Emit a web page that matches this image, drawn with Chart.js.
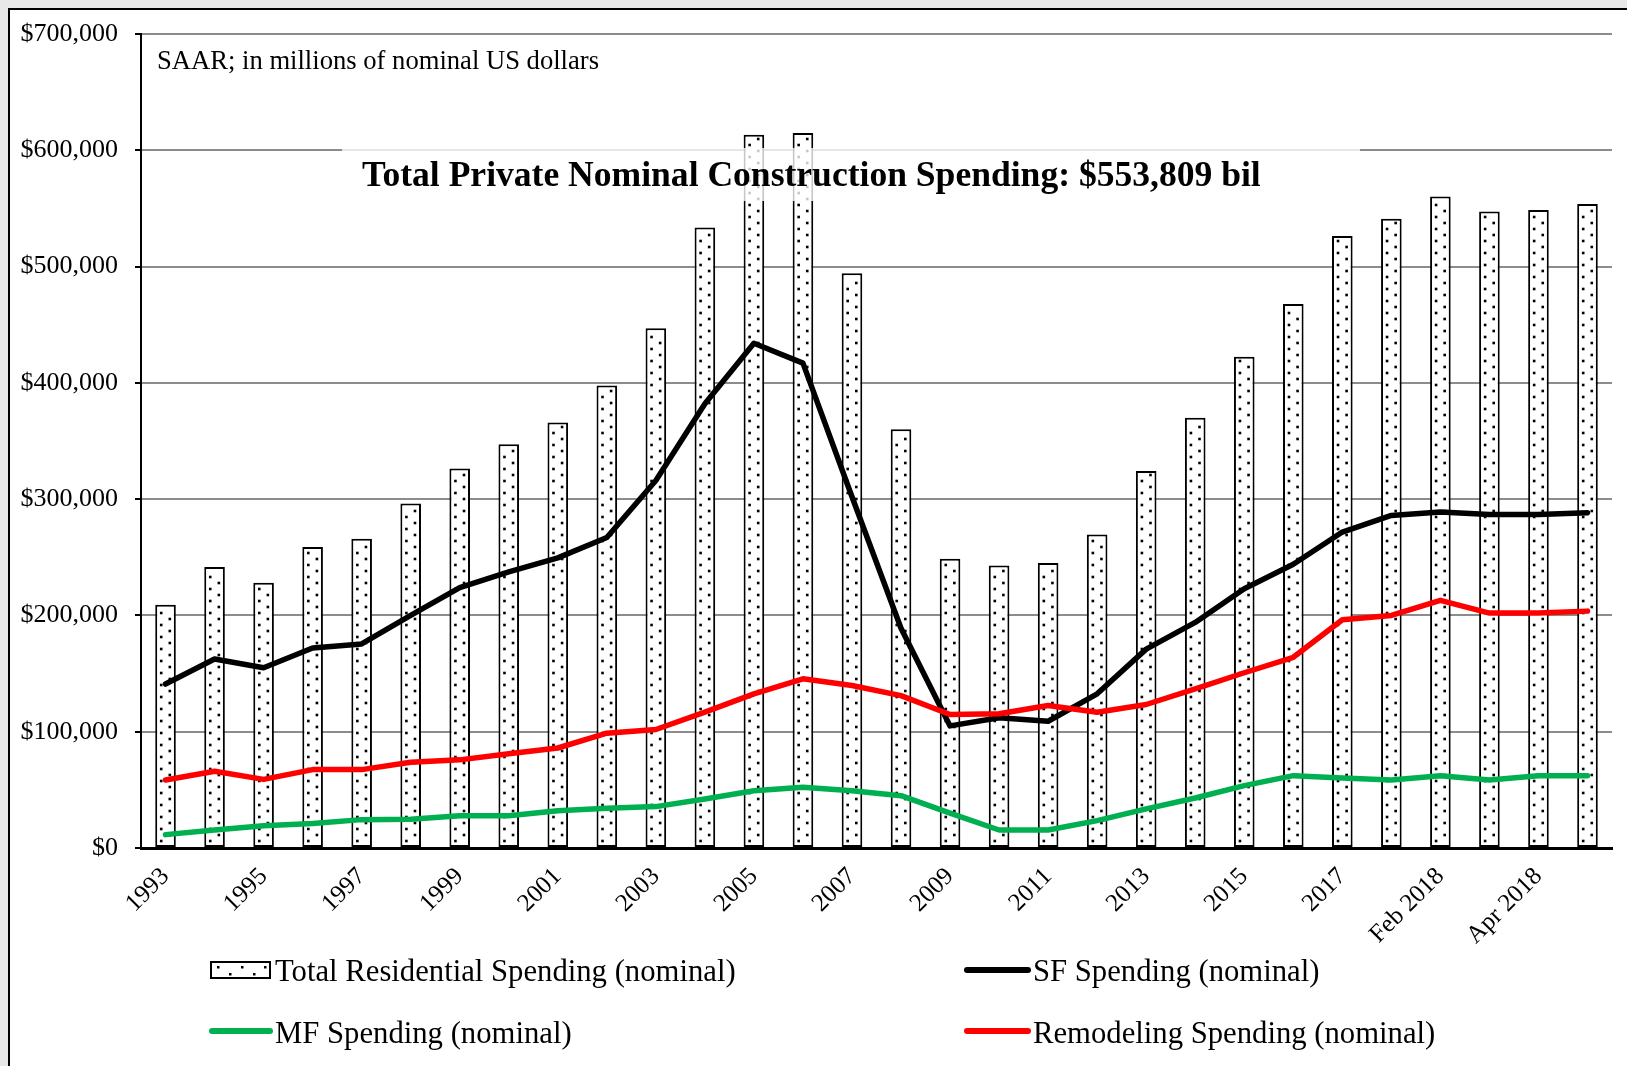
<!DOCTYPE html>
<html><head><meta charset="utf-8">
<script src="https://cdn.jsdelivr.net/npm/chart.js@4.4.1/dist/chart.umd.min.js"></script>
<style>html,body{margin:0;padding:0;background:#e8e8e8;overflow:hidden}canvas{display:block}</style>
</head><body>
<canvas id="c" width="1627" height="1066"></canvas>
<script>
// ---------- DATA ----------
const categories = ['1993','1994','1995','1996','1997','1998','1999','2000','2001','2002','2003','2004','2005','2006','2007','2008','2009','2010','2011','2012','2013','2014','2015','2016','2017','Jan 2018','Feb 2018','Mar 2018','Apr 2018','May 2018'];
const totalResidential = [209200,241600,228200,258800,266000,296200,326300,347300,365900,397800,446900,533500,613300,614800,494200,360200,248800,243000,245000,269500,324300,369900,422400,467800,526300,541200,560200,547300,548700,553809];
const sfSpending = [141000,162500,155000,172000,175500,200000,224000,237500,249500,267000,316000,382000,434000,417000,302000,189000,105000,112000,109000,132600,171000,194000,223000,244000,271700,286000,289000,286700,286700,288400];
const mfSpending = [11500,15500,19200,21000,24400,24700,27800,27800,32100,34100,35600,42200,49300,52200,49300,45000,30000,15500,15500,23500,33600,43000,53600,62200,60300,58500,62200,58500,62200,62200];
const remodelSpending = [58500,66000,59000,67400,67400,73700,75800,81000,86000,98700,101900,116800,132600,145500,139700,131000,114800,115400,122500,116800,123400,136900,150700,164000,196300,200000,213000,202000,202000,203700];
const yTickValues = [0,100000,200000,300000,400000,500000,600000,700000];
const seriesNames = ['Total Residential Spending (nominal)','SF Spending (nominal)','MF Spending (nominal)','Remodeling Spending (nominal)'];
const subtitleText = 'SAAR; in millions of nominal US dollars';
const titleText = 'Total Private Nominal Construction Spending: $553,809 bil';

// ---------- STYLE ----------
const SERIF = '"Liberation Serif", "Times New Roman", serif';
const COLORS = {sf:'#000000', mf:'#00b050', rem:'#ff0000'};

function drawDots(ctx, left, top, bottom, w) {
  let k = 0;
  for (let yy = bottom - 6; yy > top + 4; yy -= 6, k++) {
    const dx = (k % 2 === 0) ? 6 : w - 6;
    ctx.fillRect(left + dx - 1.3, yy - 1.3, 2.6, 2.6);
  }
}

function fitFont(ctx, text, weight, target) {
  ctx.font = weight + '40px ' + SERIF;
  const w = ctx.measureText(text).width;
  return weight + (40 * target / w).toFixed(2) + 'px ' + SERIF;
}

const bgPlugin = {
  id: 'bg',
  beforeDraw(chart) {
    const {ctx, width, height} = chart;
    ctx.save();
    ctx.fillStyle = '#e8e8e8';
    ctx.fillRect(0, 0, width, height);
    ctx.fillStyle = '#ffffff';
    ctx.fillRect(9, 9, width, height);
    ctx.strokeStyle = '#000';
    ctx.lineWidth = 2;
    ctx.beginPath();
    ctx.moveTo(9, height); ctx.lineTo(9, 9); ctx.lineTo(width, 9);
    ctx.stroke();
    ctx.restore();
  }
};

const dotsPlugin = {
  id: 'dots',
  afterDatasetDraw(chart, args) {
    if (args.index !== 0) return;
    const ctx = chart.ctx;
    ctx.save();
    ctx.fillStyle = '#000';
    args.meta.data.forEach(el => {
      const p = el.getProps(['x','y','base','width'], true);
      const left = p.x - p.width / 2;
      drawDots(ctx, left, p.y, p.base, p.width);
    });
    ctx.restore();
  }
};

const annotPlugin = {
  id: 'annot',
  afterDatasetsDraw(chart) {
    const ctx = chart.ctx;
    ctx.save();
    // translucent box behind the title
    ctx.fillStyle = 'rgba(255,255,255,0.78)';
    ctx.fillRect(342, 148, 1018, 53);
    // subtitle
    ctx.fillStyle = '#000';
    ctx.textBaseline = 'alphabetic';
    ctx.textAlign = 'left';
    ctx.font = fitFont(ctx, subtitleText, '', 442);
    ctx.fillText(subtitleText, 157, 69);
    // title
    ctx.font = fitFont(ctx, titleText, 'bold ', 899);
    ctx.fillText(titleText, 362, 186);
    ctx.restore();
  },
  afterDraw(chart) {
    const ctx = chart.ctx;
    const ds = chart.data.datasets;
    ctx.save();
    ctx.font = '30.7px ' + SERIF;
    ctx.textBaseline = 'middle';
    ctx.textAlign = 'left';
    // item 1: bar swatch
    ctx.fillStyle = '#fff';
    ctx.fillRect(211, 962, 59, 16);
    ctx.strokeStyle = '#000';
    ctx.lineWidth = 2;
    ctx.strokeRect(211, 962, 59, 16);
    ctx.fillStyle = '#000';
    [[217,966],[229,973],[241,966],[253,973],[264,966]].forEach(([x,y]) => ctx.fillRect(x, y, 2.5, 2.5));
    ctx.fillText(ds[0].label, 275, 973);
    // line swatches
    const items = [
      {ds: ds[1], x1: 967, x2: 1028, y: 970, ty: 973, tx: 1033},
      {ds: ds[2], x1: 212, x2: 270, y: 1031, ty: 1035, tx: 275},
      {ds: ds[3], x1: 967, x2: 1028, y: 1031, ty: 1035, tx: 1033}
    ];
    ctx.lineCap = 'round';
    items.forEach(it => {
      ctx.strokeStyle = it.ds.borderColor;
      ctx.lineWidth = 6;
      ctx.beginPath(); ctx.moveTo(it.x1, it.y); ctx.lineTo(it.x2, it.y); ctx.stroke();
      ctx.fillStyle = '#000';
      ctx.fillText(it.ds.label, it.tx, it.ty);
    });
    ctx.restore();
  }
};

new Chart(document.getElementById('c'), {
  data: {
    labels: categories,
    datasets: [
      {type:'bar', label: seriesNames[0], data: totalResidential, backgroundColor:'#ffffff', borderColor:'#000', borderWidth:2, borderSkipped:false, barPercentage:0.42, categoryPercentage:1, order:4},
      {type:'line', label: seriesNames[1], data: sfSpending, borderColor: COLORS.sf, borderWidth:5.5, pointRadius:0, tension:0, borderJoinStyle:'round', borderCapStyle:'round', order:3},
      {type:'line', label: seriesNames[2], data: mfSpending, borderColor: COLORS.mf, borderWidth:5.5, pointRadius:0, tension:0, borderJoinStyle:'round', borderCapStyle:'round', order:2},
      {type:'line', label: seriesNames[3], data: remodelSpending, borderColor: COLORS.rem, borderWidth:5.5, pointRadius:0, tension:0, borderJoinStyle:'round', borderCapStyle:'round', order:1}
    ]
  },
  options: {
    responsive:false,
    animation:false,
    devicePixelRatio:1,
    layout:{padding:{left:0, right:15, top:34, bottom:0}},
    plugins:{legend:{display:false}, tooltip:{enabled:false}, title:{display:false}},
    scales:{
      x:{
        offset:true,
        grid:{display:false, drawTicks:false},
        border:{display:true, color:'#000', width:3},
        ticks:{autoSkip:false, maxRotation:45, minRotation:45, padding:14, color:'#000',
          font:{family:SERIF, size:25},
          callback:(v, i) => (i % 2 === 0 ? categories[i] : '')},
        afterFit:(s) => { s.height = 218; }
      },
      y:{
        min:0, max:700000,
        afterBuildTicks:(s) => { s.ticks = yTickValues.map(v => ({value:v})); },
        grid:{color:'#8c8c8c', lineWidth:2, drawTicks:true, tickLength:6, tickColor:'#000', tickWidth:2},
        border:{display:true, color:'#000', width:2},
        ticks:{padding:17, color:'#000', font:{family:SERIF, size:26},
          callback:(v) => '$' + Number(v).toLocaleString('en-US')},
        afterFit:(s) => { s.width = 141; }
      }
    }
  },
  plugins:[bgPlugin, dotsPlugin, annotPlugin]
});
</script>
</body></html>
